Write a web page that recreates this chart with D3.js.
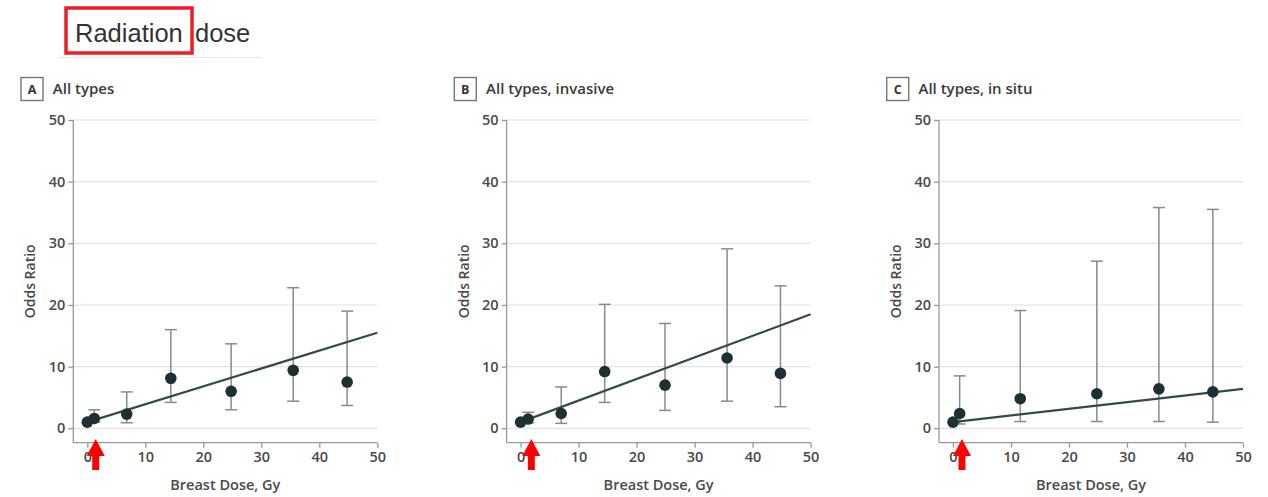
<!DOCTYPE html>
<html>
<head>
<meta charset="utf-8">
<script src="https://cdn.jsdelivr.net/npm/d3@7"></script>
<style>
  body { margin: 0; background: #fff; }
  svg { display: block; }
  .tick text { font-family: 'Open Sans', sans-serif; font-size: 14.5px; font-weight: 600; fill: #4a4a4a; }
</style>
</head>
<body>
<div id="chart"></div>
<script>
const panelLetters = ['A', 'B', 'C'];
const panelTitles = ['All types', 'All types, invasive', 'All types, in situ'];
const yTicks = [0, 10, 20, 30, 40, 50];
const xTicks = [0, 10, 20, 30, 40, 50];

// panel A
const doseA = [0, 1.2, 6.8, 14.4, 24.8, 35.5, 44.8];
const orA = [1.0, 1.6, 2.3, 8.1, 6.0, 9.4, 7.5];
const lowA = [null, 1.0, 0.9, 4.2, 3.0, 4.4, 3.7];
const highA = [null, 3.0, 5.9, 16.0, 13.7, 22.8, 19.0];
const fitA = [1.0, 15.5];

// panel B
const doseB = [0, 1.3, 7.0, 14.5, 24.9, 35.6, 44.8];
const orB = [1.0, 1.5, 2.4, 9.2, 7.0, 11.4, 8.9];
const lowB = [null, 0.9, 0.8, 4.2, 2.9, 4.4, 3.5];
const highB = [null, 2.6, 6.7, 20.1, 17.0, 29.1, 23.1];
const fitB = [1.0, 18.5];

// panel C
const doseC = [0, 1.15, 11.6, 24.8, 35.5, 44.8];
const orC = [1.0, 2.4, 4.8, 5.6, 6.4, 5.9];
const lowC = [null, 0.7, 1.1, 1.1, 1.1, 1.0];
const highC = [null, 8.5, 19.1, 27.1, 35.8, 35.5];
const fitC = [1.0, 6.4];

// red arrows under the x axis (dose where they point)
const arrowDose = [1.45, 1.85, 1.55];

const panels = [
  { dose: doseA, or: orA, low: lowA, high: highA, fit: fitA },
  { dose: doseB, or: orB, low: lowB, high: highB, fit: fitB },
  { dose: doseC, or: orC, low: lowC, high: highC, fit: fitC },
];

const WIDTH = 1268;
const HEIGHT = 497;
const axisLeftX = [73.3, 506.6, 939];
const TOP = 120;
const BOTTOM = 442.7;
const ZERO_Y = 428.3;
const X_INSET = 14;
const X_SPAN = 290;
const FONT = "'Open Sans', sans-serif";

const svg = d3.create('svg').attr('width', WIDTH).attr('height', HEIGHT);

// header
const header = svg.append('g')
  .style('font-family', "'Liberation Sans', Arial, sans-serif")
  .style('font-size', '25.5px')
  .style('fill', '#333');
header.append('text').attr('x', 75).attr('y', 42).text('Radiation');
header.append('text').attr('x', 195).attr('y', 42).text('dose');
svg.append('rect')
  .attr('x', 66).attr('y', 8).attr('width', 126).attr('height', 45)
  .attr('fill', 'none').attr('stroke', '#ee1c24').attr('stroke-width', 3.5);
svg.append('line')
  .attr('x1', 58).attr('x2', 262).attr('y1', 57.5).attr('y2', 57.5)
  .attr('stroke', '#e6e6e6').attr('stroke-width', 1);

panels.forEach((p, i) => {
  const ax = axisLeftX[i];
  const g = svg.append('g');

  const x = d3.scaleLinear().domain([0, 50]).range([ax + X_INSET, ax + X_INSET + X_SPAN]);
  const y = d3.scaleLinear().domain([0, 50]).range([ZERO_Y, TOP]);

  // panel label
  const boxX = ax - 52.3;
  g.append('rect')
    .attr('x', boxX).attr('y', 77.5).attr('width', 22).attr('height', 23)
    .attr('fill', '#fff').attr('stroke', '#777').attr('stroke-width', 1.4);
  g.append('text')
    .attr('x', boxX + 11).attr('y', 93.5)
    .attr('text-anchor', 'middle')
    .style('font-family', FONT)
    .style('font-size', '12.5px').style('font-weight', 'bold').style('fill', '#333')
    .text(panelLetters[i]);
  g.append('text')
    .attr('x', ax - 20.5).attr('y', 93.5)
    .style('font-family', FONT)
    .style('font-size', '15px').style('font-weight', 600).style('fill', '#3a3a3a')
    .text(panelTitles[i]);

  // gridlines
  g.append('g')
    .selectAll('line')
    .data(yTicks)
    .join('line')
    .attr('x1', ax).attr('x2', x(50))
    .attr('y1', (d) => y(d)).attr('y2', (d) => y(d))
    .attr('stroke', '#e2e2e2').attr('stroke-width', 1.2);

  // y axis
  const yAxis = g.append('g')
    .attr('transform', `translate(${ax},0)`)
    .call(d3.axisLeft(y).tickValues(yTicks).tickSize(5).tickPadding(3).tickSizeOuter(0));
  yAxis.select('.domain').attr('d', `M0,${TOP}V${BOTTOM}`);

  // x axis
  const xAxis = g.append('g')
    .attr('transform', `translate(0,${BOTTOM})`)
    .call(d3.axisBottom(x).tickValues(xTicks).tickSize(5).tickPadding(4).tickSizeOuter(0));
  xAxis.select('.domain').attr('d', `M${ax},0H${x(50)}`);

  [yAxis, xAxis].forEach((a) => {
    a.selectAll('.domain, .tick line').attr('stroke', '#999').attr('stroke-width', 1.3);
  });

  // axis titles
  g.append('text')
    .attr('x', (ax + x(50)) / 2).attr('y', 490)
    .attr('text-anchor', 'middle')
    .style('font-family', FONT)
    .style('font-size', '14.5px').style('font-weight', 600).style('fill', '#4a4a4a')
    .text('Breast Dose, Gy');
  g.append('text')
    .attr('transform', `translate(${ax - 38},${(TOP + BOTTOM) / 2}) rotate(-90)`)
    .attr('text-anchor', 'middle')
    .style('font-family', FONT)
    .style('font-size', '14px').style('font-weight', 600).style('fill', '#4a4a4a')
    .text('Odds Ratio');

  const rows = p.dose.map((d, k) => ({ dose: d, or: p.or[k], low: p.low[k], high: p.high[k] }));
  const withCi = rows.filter((r) => r.low !== null);

  // error bars
  const eb = g.append('g').attr('stroke', '#8a8a8a').attr('stroke-width', 1.5);
  eb.selectAll('line.v')
    .data(withCi).join('line').attr('class', 'v')
    .attr('x1', (d) => x(d.dose)).attr('x2', (d) => x(d.dose))
    .attr('y1', (d) => y(d.low)).attr('y2', (d) => y(d.high));
  eb.selectAll('line.top')
    .data(withCi).join('line').attr('class', 'top')
    .attr('x1', (d) => x(d.dose) - 6).attr('x2', (d) => x(d.dose) + 6)
    .attr('y1', (d) => y(d.high)).attr('y2', (d) => y(d.high));
  eb.selectAll('line.bot')
    .data(withCi).join('line').attr('class', 'bot')
    .attr('x1', (d) => x(d.dose) - 6).attr('x2', (d) => x(d.dose) + 6)
    .attr('y1', (d) => y(d.low)).attr('y2', (d) => y(d.low));

  // fitted line
  g.append('line')
    .attr('x1', x(0)).attr('y1', y(p.fit[0]))
    .attr('x2', x(50)).attr('y2', y(p.fit[1]))
    .attr('stroke', '#34494b').attr('stroke-width', 2.2);

  // points
  g.append('g')
    .selectAll('circle')
    .data(rows)
    .join('circle')
    .attr('cx', (d) => x(d.dose)).attr('cy', (d) => y(d.or))
    .attr('r', 5.8)
    .attr('fill', '#1e3033');

  // red arrow
  const cx = x(arrowDose[i]);
  const top = 439;
  g.append('path')
    .attr('d', `M${cx},${top}L${cx + 9},${top + 17}L${cx + 3.5},${top + 17}L${cx + 3.5},${top + 31}` +
      `L${cx - 3.5},${top + 31}L${cx - 3.5},${top + 17}L${cx - 9},${top + 17}Z`)
    .attr('fill', '#ff0000');
});

document.getElementById('chart').appendChild(svg.node());
</script>
</body>
</html>
